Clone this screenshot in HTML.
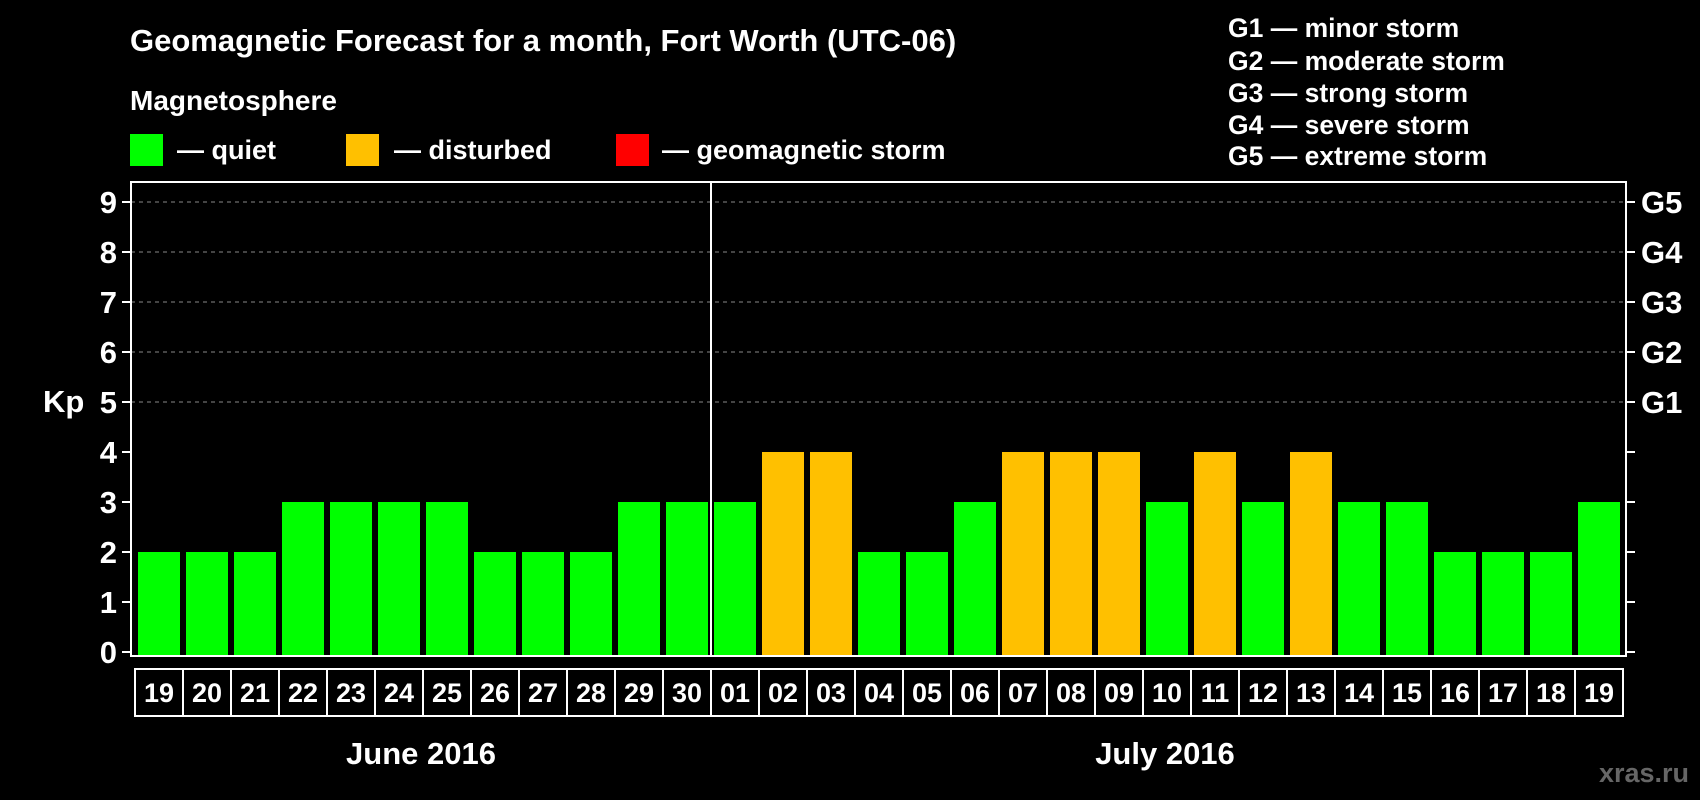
<!DOCTYPE html>
<html><head><meta charset="utf-8"><style>
body{margin:0;background:#000;}
svg{display:block;font-family:"Liberation Sans",Arial,sans-serif;font-weight:bold;}
</style></head><body>
<svg id="c" width="1700" height="800" viewBox="0 0 1700 800">
<rect width="1700" height="800" fill="#000"/>
<text x="130" y="51" fill="#fff" font-size="31">Geomagnetic Forecast for a month, Fort Worth (UTC-06)</text>
<text x="130" y="110" fill="#fff" font-size="28">Magnetosphere</text>
<rect x="130" y="134" width="33" height="32" fill="#00ff00"/>
<text x="177" y="159" fill="#fff" font-size="27">— quiet</text>
<rect x="346" y="134" width="33" height="32" fill="#ffc000"/>
<text x="394" y="159" fill="#fff" font-size="27">— disturbed</text>
<rect x="616" y="134" width="33" height="32" fill="#ff0000"/>
<text x="662" y="159" fill="#fff" font-size="27">— geomagnetic storm</text>
<g fill="#fff" font-size="26.5">
<text x="1228" y="37">G1 — minor storm</text>
<text x="1228" y="70">G2 — moderate storm</text>
<text x="1228" y="102">G3 — strong storm</text>
<text x="1228" y="134">G4 — severe storm</text>
<text x="1228" y="165">G5 — extreme storm</text>
</g>
<text x="43" y="412" fill="#fff" font-size="31">Kp</text>
<g id="plot"></g>
<text x="421" y="764" fill="#fff" font-size="31" text-anchor="middle">June 2016</text>
<text x="1165" y="764" fill="#fff" font-size="31" text-anchor="middle">July 2016</text>
<text x="1689" y="782" fill="#666" font-size="27" text-anchor="end">xras.ru</text>
</svg>
<script>
const days=["19","20","21","22","23","24","25","26","27","28","29","30","01","02","03","04","05","06","07","08","09","10","11","12","13","14","15","16","17","18","19"];
const kp=[2,2,2,3,3,3,3,2,2,2,3,3,3,4,4,2,2,3,4,4,4,3,4,3,4,3,3,2,2,2,3];
const yTicks=[0,1,2,3,4,5,6,7,8,9];
const gLabels=["G1","G2","G3","G4","G5"];
const NS="http://www.w3.org/2000/svg";
const g=document.getElementById('plot');
const L=131,R=1626,T=182,B=656;
const y=v=>652-v*50;
const x=i=>138+i*48;
function mk(t,a){const e=document.createElementNS(NS,t);for(const k in a)e.setAttribute(k,a[k]);g.appendChild(e);return e;}
yTicks.forEach(v=>{
 if(v>=5){const l=mk('line',{x1:L,x2:R,y1:y(v),y2:y(v),stroke:'#888','stroke-width':1,'stroke-dasharray':'4,4'});
 
 }
 const t1=mk('line',{x1:L-9,x2:L,y1:y(v),y2:y(v),stroke:'#fff','stroke-width':2});
 
 
 const t2=mk('line',{x1:R,x2:R+9,y1:y(v),y2:y(v),stroke:'#fff','stroke-width':2});
 
 
 const tx=mk('text',{x:117,y:y(v)+11,fill:'#fff','font-size':31,'text-anchor':'end'});
 tx.textContent=v;
 
 
});
gLabels.forEach((s,i)=>{
 const t=mk('text',{x:1641,y:y(i+5)+11,fill:'#fff','font-size':31});
 t.textContent=s;
 
 
});
kp.forEach((v,i)=>{
 const c=v>=5?'#ff0000':(v>=4?'#ffc000':'#00ff00');
 const r=mk('rect',{x:x(i),y:y(v),width:42,height:B-y(v),fill:c});
 
 
 const b=mk('rect',{x:x(i)-3,y:669,width:48,height:47,fill:'none',stroke:'#fff','stroke-width':2});
 
 
 const t=mk('text',{x:x(i)+21,y:702,fill:'#fff','font-size':27,'text-anchor':'middle'});
 t.textContent=days[i];
 
 
});
const f=mk('rect',{x:L,y:T,width:R-L,height:B-T,fill:'none',stroke:'#fff','stroke-width':2});


const sep=mk('line',{x1:x(12)-3,x2:x(12)-3,y1:T,y2:B,stroke:'#fff','stroke-width':2});


</script>
</body></html>
